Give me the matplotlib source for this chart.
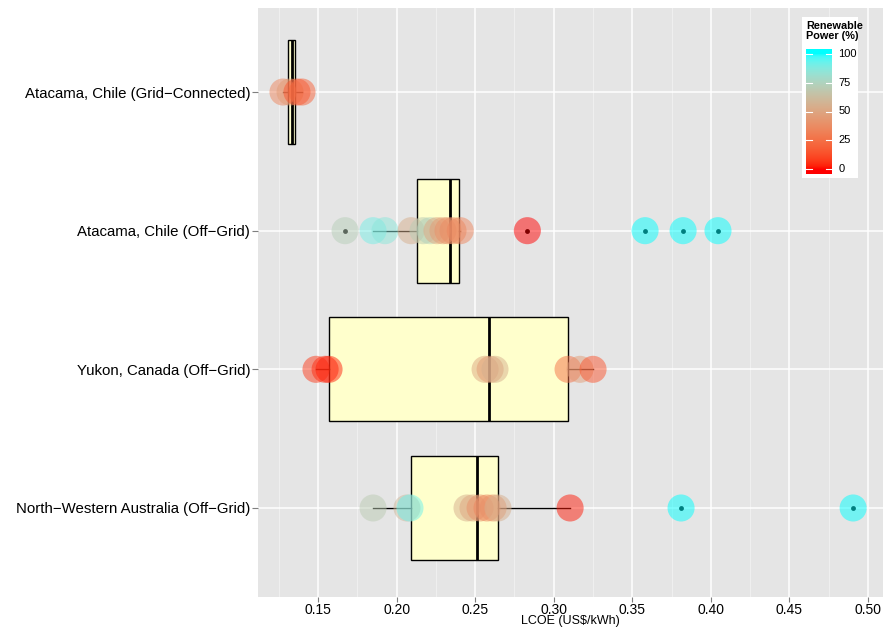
import numpy as np
import matplotlib
matplotlib.use("Agg")
import matplotlib.pyplot as plt
import matplotlib.colors as mcolors

plt.rcParams['font.family'] = ['Liberation Sans', 'DejaVu Sans']

# Sites, top to bottom
sites = ["Atacama, Chile (Grid\u2212Connected)",
         "Atacama, Chile (Off\u2212Grid)",
         "Yukon, Canada (Off\u2212Grid)",
         "North\u2212Western Australia (Off\u2212Grid)"]

# Scenario results per site: LCOE (US$/kWh) and renewable share (%)
grid_lcoe = [0.1277, 0.1322, 0.1366, 0.1398]
grid_renew = [35, 45, 15, 20]

atacama_lcoe = [0.1672, 0.1850, 0.1926, 0.2092, 0.2168, 0.2213, 0.2257,
                0.2295, 0.2327, 0.2359, 0.2405, 0.2832, 0.3581, 0.3823, 0.4045]
atacama_renew = [72, 90, 86, 55, 70, 74, 50, 45, 40, 38, 35, 0, 100, 100, 100]

yukon_lcoe = [0.1487, 0.1545, 0.1570, 0.2563, 0.2595, 0.2626, 0.3091, 0.3167, 0.3250]
yukon_renew = [8, 5, 3, 50, 45, 55, 25, 45, 15]

nwa_lcoe = [0.1850, 0.2066, 0.2085, 0.2448, 0.2486, 0.2531, 0.2575,
            0.2614, 0.2645, 0.3104, 0.3810, 0.4905]
nwa_renew = [70, 60, 92, 55, 50, 40, 35, 40, 55, 2, 100, 100]

# Box summaries: lower whisker, Q1, median, Q3, upper whisker, outliers
box_whislo = [0.1277, 0.1850, 0.1487, 0.1850]
box_q1 = [0.1309, 0.2128, 0.1570, 0.2090]
box_med = [0.1333, 0.2340, 0.2590, 0.2512]
box_q3 = [0.1353, 0.2397, 0.3093, 0.2646]
box_whishi = [0.1398, 0.2405, 0.3250, 0.3104]
box_fliers = [[], [0.1672, 0.2832, 0.3581, 0.3823, 0.4045], [], [0.3810, 0.4905]]

xticks = [0.15, 0.20, 0.25, 0.30, 0.35, 0.40, 0.45, 0.50]
legend_breaks = [0, 25, 50, 75, 100]


def to_lab(col):
    rgb = np.array(mcolors.to_rgb(col))
    lin = np.where(rgb <= 0.04045, rgb / 12.92, ((rgb + 0.055) / 1.055) ** 2.4)
    M = np.array([[0.4124, 0.3576, 0.1805],
                  [0.2126, 0.7152, 0.0722],
                  [0.0193, 0.1192, 0.9505]])
    xyz = M @ lin / np.array([0.95047, 1.0, 1.08883])
    f = np.where(xyz > 0.008856, np.cbrt(xyz), 7.787 * xyz + 16 / 116)
    return np.array([116 * f[1] - 16, 500 * (f[0] - f[1]), 200 * (f[1] - f[2])])


def from_lab(lab):
    fy = (lab[0] + 16) / 116
    fx = fy + lab[1] / 500
    fz = fy - lab[2] / 200
    f = np.array([fx, fy, fz])
    xyz = np.where(f ** 3 > 0.008856, f ** 3, (f - 16 / 116) / 7.787)
    xyz = xyz * np.array([0.95047, 1.0, 1.08883])
    Minv = np.array([[3.2406, -1.5372, -0.4986],
                     [-0.9689, 1.8758, 0.0415],
                     [0.0557, -0.2040, 1.0570]])
    lin = Minv @ xyz
    rgb = np.where(lin <= 0.0031308, 12.92 * lin, 1.055 * np.clip(lin, 0, None) ** (1 / 2.4) - 0.055)
    return np.clip(rgb, 0, 1)


# red -> cyan gradient interpolated in Lab space
lab_lo, lab_hi = to_lab("red"), to_lab("cyan")
cmap = mcolors.ListedColormap([from_lab(lab_lo + t * (lab_hi - lab_lo))
                               for t in np.linspace(0, 1, 256)])
norm = mcolors.Normalize(0, 100)

fig = plt.figure(figsize=(8.85, 6.3), dpi=100)
ax = fig.add_axes([258 / 885, 1 - 597 / 630, 625 / 885, 589 / 630])
ax.set_facecolor("#E5E5E5")
for s in ax.spines.values():
    s.set_visible(False)

ypos = [4, 3, 2, 1]

# grid
ax.set_xticks(xticks)
ax.set_xticks([t + 0.025 for t in [0.10] + xticks], minor=True)
ax.grid(True, which="major", axis="x", color="white", lw=1.1, zorder=0)
ax.grid(True, which="minor", axis="x", color="#F2F2F2", lw=0.6, zorder=0)
ax.grid(True, which="major", axis="y", color="white", lw=1.1, zorder=0)
ax.set_axisbelow(True)

stats = []
for i in range(4):
    stats.append(dict(whislo=box_whislo[i], q1=box_q1[i], med=box_med[i],
                      q3=box_q3[i], whishi=box_whishi[i], fliers=box_fliers[i]))
ax.bxp(stats, positions=ypos, orientation="horizontal", widths=0.75,
       patch_artist=True, showcaps=False,
       boxprops=dict(facecolor="#FFFFCC", edgecolor="black", lw=1.0),
       medianprops=dict(color="black", lw=2.0),
       whiskerprops=dict(color="black", lw=1.0),
       flierprops=dict(marker="o", markersize=3.5, markerfacecolor="black",
                       markeredgecolor="none"),
       zorder=2)

for y, lc, rn in zip(ypos, [grid_lcoe, atacama_lcoe, yukon_lcoe, nwa_lcoe],
                     [grid_renew, atacama_renew, yukon_renew, nwa_renew]):
    ax.scatter(lc, [y] * len(lc), c=rn, cmap=cmap, norm=norm, s=380,
               alpha=0.5, edgecolors="none", zorder=3)

ax.set_xlim(0.1118, 0.5095)
ax.set_ylim(0.358, 4.606)
ax.set_yticks(ypos)
ax.set_yticklabels(sites, fontsize=10.8, color="black")
ax.set_xticklabels([f"{t:.2f}" for t in xticks], fontsize=10, color="black")
ax.tick_params(axis="y", which="major", length=4, color="#7F7F7F", width=0.8, pad=1.5)
ax.tick_params(axis="x", which="major", length=3.5, color="#7F7F7F", width=0.8, pad=0.5)
ax.tick_params(axis="both", which="minor", length=0)
ax.set_xlabel("LCOE (US$/kWh)", fontsize=9)
ax.xaxis.set_label_coords(0.5, -0.0305)

# colour legend
fig.patches.append(plt.Rectangle((802 / 885, 1 - 178 / 630), 56 / 885, 161 / 630,
                                 transform=fig.transFigure, facecolor="white",
                                 edgecolor="none", zorder=5))
fig.text(806 / 885, 1 - 21 / 630, "Renewable\nPower (%)", fontsize=7.8,
         fontweight="bold", va="top", ha="left", linespacing=1.05, zorder=6)
cax = fig.add_axes([806 / 885, 1 - 174 / 630, 26 / 885, 125 / 630], zorder=6)
lo, hi = -3.9, 103.9
grad = np.clip(np.linspace(hi, lo, 200), 0, 100).reshape(-1, 1)
cax.imshow(grad, cmap=cmap, norm=norm, aspect="auto", extent=[0, 1, lo, hi])
cax.set_xlim(0, 1)
cax.set_ylim(lo, hi)
for b in legend_breaks:
    cax.plot([0, 0.22], [b, b], color="white", lw=0.8)
    cax.plot([0.78, 1], [b, b], color="white", lw=0.8)
    cax.text(1.25, b, str(b), transform=cax.transData, fontsize=8,
             va="center", ha="left")
cax.axis("off")

fig.savefig("out.png", dpi=100)
